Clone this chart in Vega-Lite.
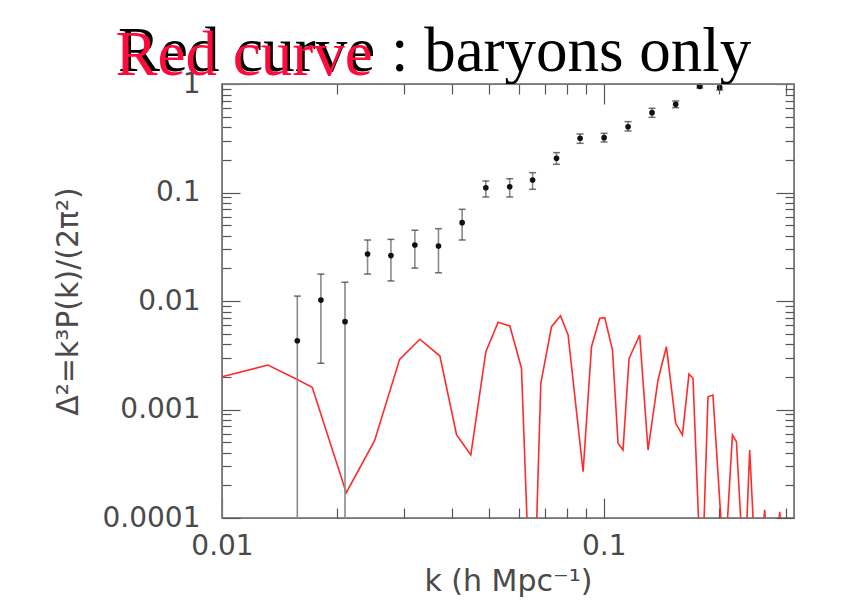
{
  "$schema": "https://vega.github.io/schema/vega-lite/v6.json",
  "width": 572,
  "height": 434,
  "autosize": "none",
  "padding": {"left": 222, "top": 84, "right": 51, "bottom": 98},
  "background": "white",
  "title": {
    "text": "Red curve : baryons only",
    "font": "Liberation Serif",
    "fontSize": 63,
    "fontWeight": "normal",
    "color": "black",
    "anchor": "start",
    "frame": "group",
    "baseline": "alphabetic",
    "dx": -104,
    "dy": 115,
    "offset": 5,
    "zindex": 0
  },
  "config": {
    "view": {"stroke": "#666", "strokeWidth": 1.5},
    "axis": {
      "grid": false,
      "domainColor": "#777",
      "tickColor": "#555",
      "tickWidth": 1.2,
      "labelFont": "DejaVu Sans",
      "labelFontSize": 28,
      "labelColor": "#4a4a4a",
      "titleFont": "DejaVu Sans",
      "titleFontSize": 30,
      "titleFontWeight": "normal",
      "titleColor": "#4a4a4a"
    }
  },
  "datasets": {
    "curve": [
      {"k": 0.01, "d2": 0.002005}, {"k": 0.01319, "d2": 0.00257}, {"k": 0.01565, "d2": 0.00191},
      {"k": 0.01723, "d2": 0.001603}, {"k": 0.02116, "d2": 0.000171}, {"k": 0.0251, "d2": 0.000516},
      {"k": 0.02919, "d2": 0.0029}, {"k": 0.03298, "d2": 0.00444}, {"k": 0.03722, "d2": 0.00311},
      {"k": 0.04116, "d2": 0.000582}, {"k": 0.04485, "d2": 0.000381}, {"k": 0.04911, "d2": 0.00341},
      {"k": 0.05289, "d2": 0.00637}, {"k": 0.05675, "d2": 0.00589}, {"k": 0.06088, "d2": 0.0024},
      {"k": 0.06337, "d2": 0.00005}, {"k": 0.06637, "d2": 0.00005}, {"k": 0.06841, "d2": 0.00174},
      {"k": 0.07297, "d2": 0.0058}, {"k": 0.07702, "d2": 0.00732}, {"k": 0.08064, "d2": 0.00486},
      {"k": 0.08829, "d2": 0.000267}, {"k": 0.09287, "d2": 0.00379}, {"k": 0.09761, "d2": 0.00693},
      {"k": 0.1006, "d2": 0.00702}, {"k": 0.1054, "d2": 0.00353}, {"k": 0.109, "d2": 0.000488},
      {"k": 0.1123, "d2": 0.000423}, {"k": 0.1165, "d2": 0.00296}, {"k": 0.1242, "d2": 0.00486},
      {"k": 0.1306, "d2": 0.000423}, {"k": 0.1387, "d2": 0.00187}, {"k": 0.1459, "d2": 0.00379},
      {"k": 0.1543, "d2": 0.000746}, {"k": 0.1607, "d2": 0.000582}, {"k": 0.1672, "d2": 0.00212},
      {"k": 0.1713, "d2": 0.00194}, {"k": 0.1784, "d2": 0.00005}, {"k": 0.182, "d2": 0.00005},
      {"k": 0.1875, "d2": 0.00131}, {"k": 0.1932, "d2": 0.00136}, {"k": 0.2052, "d2": 0.00005},
      {"k": 0.2086, "d2": 0.00005}, {"k": 0.2173, "d2": 0.000582}, {"k": 0.2226, "d2": 0.000505},
      {"k": 0.2308, "d2": 0.00005}, {"k": 0.2354, "d2": 0.00005}, {"k": 0.2411, "d2": 0.000423},
      {"k": 0.2485, "d2": 0.00005}, {"k": 0.2592, "d2": 0.00005}, {"k": 0.2639, "d2": 0.000119},
      {"k": 0.2687, "d2": 0.00005}, {"k": 0.2838, "d2": 0.00005}, {"k": 0.289, "d2": 0.000114},
      {"k": 0.2943, "d2": 0.00005}
    ],
    "points": [
      {"k": 0.01575, "d2": 0.0043, "lo": 0.00005, "hi": 0.0111},
      {"k": 0.01816, "d2": 0.0102, "lo": 0.00267, "hi": 0.0177},
      {"k": 0.021, "d2": 0.00645, "lo": 0.00005, "hi": 0.0149},
      {"k": 0.02406, "d2": 0.0271, "lo": 0.0177, "hi": 0.0365},
      {"k": 0.0277, "d2": 0.0262, "lo": 0.0153, "hi": 0.037},
      {"k": 0.032, "d2": 0.0328, "lo": 0.0201, "hi": 0.0449},
      {"k": 0.0369, "d2": 0.0321, "lo": 0.0182, "hi": 0.0464},
      {"k": 0.04256, "d2": 0.0527, "lo": 0.0365, "hi": 0.07},
      {"k": 0.0491, "d2": 0.1107, "lo": 0.0909, "hi": 0.1277},
      {"k": 0.0567, "d2": 0.113, "lo": 0.0909, "hi": 0.134},
      {"k": 0.0651, "d2": 0.1303, "lo": 0.107, "hi": 0.1524},
      {"k": 0.0752, "d2": 0.2066, "lo": 0.182, "hi": 0.233},
      {"k": 0.0867, "d2": 0.316, "lo": 0.284, "hi": 0.346},
      {"k": 0.1002, "d2": 0.32, "lo": 0.292, "hi": 0.351},
      {"k": 0.1158, "d2": 0.404, "lo": 0.369, "hi": 0.45},
      {"k": 0.1338, "d2": 0.544, "lo": 0.493, "hi": 0.597},
      {"k": 0.1543, "d2": 0.65, "lo": 0.605, "hi": 0.697},
      {"k": 0.1784, "d2": 0.95, "lo": 0.92, "hi": 0.98},
      {"k": 0.2012, "d2": 0.93, "lo": 0.88, "hi": 1.05}
    ]
  },
  "layer": [
    {
      "data": {"name": "curve"},
      "mark": {"type": "line", "color": "#ff2a2a", "strokeWidth": 1.6, "clip": true},
      "encoding": {
        "x": {
          "field": "k", "type": "quantitative",
          "scale": {"type": "log", "domain": [0.01, 0.315], "nice": false},
          "axis": {
            "orient": "bottom",
            "values": [0.01, 0.02, 0.03, 0.04, 0.05, 0.06, 0.07, 0.08, 0.09, 0.1, 0.2, 0.3],
            "labelExpr": "datum.value == 0.01 ? '0.01' : (datum.value == 0.1 ? '0.1' : '')",
            "tickSize": {"condition": {"test": "datum.value == 0.01 || datum.value == 0.1", "value": -20}, "value": -10},
            "labelPadding": 34,
            "labelFlush": false,
            "labelOverlap": false,
            "title": "k (h Mpc⁻¹)",
            "titlePadding": -4
          }
        },
        "y": {
          "field": "d2", "type": "quantitative",
          "scale": {"type": "log", "domain": [0.0001, 1], "nice": false},
          "axis": {
            "orient": "left",
            "values": [0.0001, 0.0002, 0.0003, 0.0004, 0.0005, 0.0006, 0.0007, 0.0008, 0.0009, 0.001, 0.002, 0.003, 0.004, 0.005, 0.006, 0.007, 0.008, 0.009, 0.01, 0.02, 0.03, 0.04, 0.05, 0.06, 0.07, 0.08, 0.09, 0.1, 0.2, 0.3, 0.4, 0.5, 0.6, 0.7, 0.8, 0.9, 1],
            "labelExpr": "datum.value == 0.0001 ? '0.0001' : datum.value == 0.001 ? '0.001' : datum.value == 0.01 ? '0.01' : datum.value == 0.1 ? '0.1' : datum.value == 1 ? '1' : ''",
            "tickSize": {"condition": {"test": "datum.value == 0.0001 || datum.value == 0.001 || datum.value == 0.01 || datum.value == 0.1 || datum.value == 1", "value": -18}, "value": -9},
            "labelPadding": 40,
            "labelFlush": false,
            "labelOverlap": false,
            "title": "Δ²=k³P(k)/(2π²)",
            "titlePadding": 19
          }
        }
      }
    },
    {
      "data": {"name": "points"},
      "mark": {"type": "rule", "color": "#8a8a8a", "strokeWidth": 1.6, "clip": true},
      "encoding": {
        "x": {
          "field": "k", "type": "quantitative",
          "axis": {
            "orient": "top",
            "values": [0.01, 0.02, 0.03, 0.04, 0.05, 0.06, 0.07, 0.08, 0.09, 0.1, 0.2, 0.3],
            "labels": false,
            "tickSize": {"condition": {"test": "datum.value == 0.01 || datum.value == 0.1", "value": -20}, "value": -10},
            "title": "Red curve",
            "titleFont": "Liberation Serif",
            "titleFontSize": 63,
            "titleColor": "#ff0a3c",
            "titleFontWeight": "normal",
            "titleAlign": "left",
            "titleBaseline": "alphabetic",
            "titleAnchor": "start",
            "titleX": -107,
            "titleY": -10,
            "zindex": 2
          }
        },
        "y": {
          "field": "lo", "type": "quantitative",
          "axis": {
            "orient": "right",
            "values": [0.0001, 0.0002, 0.0003, 0.0004, 0.0005, 0.0006, 0.0007, 0.0008, 0.0009, 0.001, 0.002, 0.003, 0.004, 0.005, 0.006, 0.007, 0.008, 0.009, 0.01, 0.02, 0.03, 0.04, 0.05, 0.06, 0.07, 0.08, 0.09, 0.1, 0.2, 0.3, 0.4, 0.5, 0.6, 0.7, 0.8, 0.9, 1],
            "labels": false,
            "tickSize": {"condition": {"test": "datum.value == 0.0001 || datum.value == 0.001 || datum.value == 0.01 || datum.value == 0.1 || datum.value == 1", "value": -18}, "value": -9},
            "title": null
          }
        },
        "y2": {"field": "hi"}
      }
    },
    {
      "data": {"name": "points"},
      "mark": {"type": "tick", "orient": "horizontal", "color": "#333", "size": 7, "thickness": 1.5, "clip": true},
      "encoding": {
        "x": {"field": "k", "type": "quantitative", "axis": null},
        "y": {"field": "hi", "type": "quantitative", "axis": null}
      }
    },
    {
      "data": {"name": "points"},
      "mark": {"type": "tick", "orient": "horizontal", "color": "#333", "size": 7, "thickness": 1.5, "clip": true},
      "encoding": {
        "x": {"field": "k", "type": "quantitative", "axis": null},
        "y": {"field": "lo", "type": "quantitative", "axis": null}
      }
    },
    {
      "data": {"name": "points"},
      "mark": {"type": "point", "filled": true, "color": "#111", "size": 32, "opacity": 1},
      "encoding": {
        "x": {"field": "k", "type": "quantitative", "axis": null},
        "y": {"field": "d2", "type": "quantitative", "axis": null}
      }
    }
  ],
  "resolve": {"axis": {"x": "independent", "y": "independent"}}
}
